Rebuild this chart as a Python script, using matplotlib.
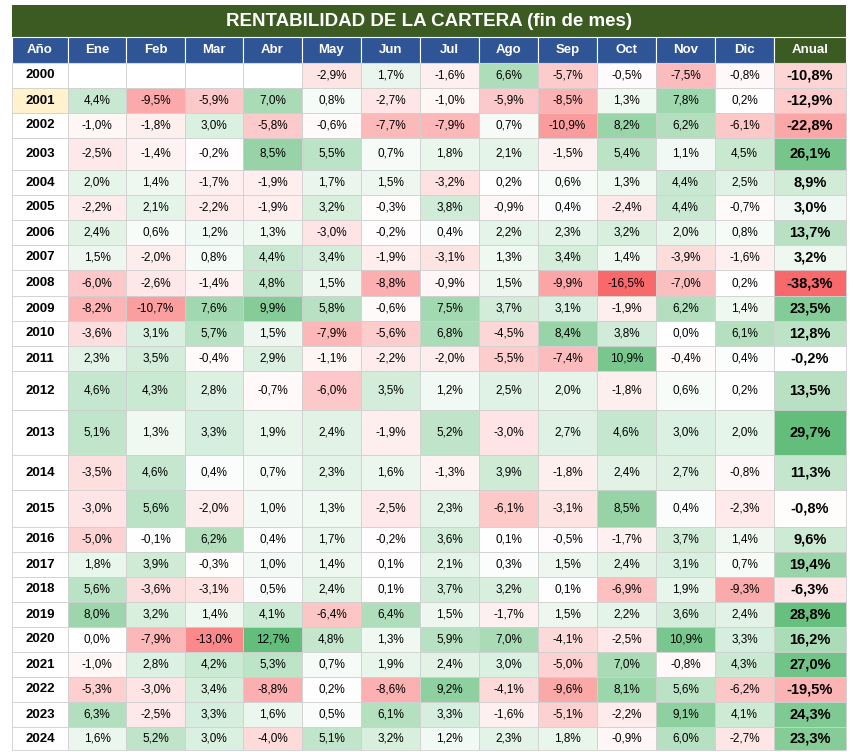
import matplotlib
matplotlib.use("Agg")
import matplotlib.pyplot as plt
from matplotlib.patches import Rectangle
import numpy as np

years = list(range(2000, 2025))
months = ["Ene","Feb","Mar","Abr","May","Jun","Jul","Ago","Sep","Oct","Nov","Dic"]
N = None
monthly = [
 [N,N,N,N,-2.9,1.7,-1.6,6.6,-5.7,-0.5,-7.5,-0.8],
 [4.4,-9.5,-5.9,7.0,0.8,-2.7,-1.0,-5.9,-8.5,1.3,7.8,0.2],
 [-1.0,-1.8,3.0,-5.8,-0.6,-7.7,-7.9,0.7,-10.9,8.2,6.2,-6.1],
 [-2.5,-1.4,-0.2,8.5,5.5,0.7,1.8,2.1,-1.5,5.4,1.1,4.5],
 [2.0,1.4,-1.7,-1.9,1.7,1.5,-3.2,0.2,0.6,1.3,4.4,2.5],
 [-2.2,2.1,-2.2,-1.9,3.2,-0.3,3.8,-0.9,0.4,-2.4,4.4,-0.7],
 [2.4,0.6,1.2,1.3,-3.0,-0.2,0.4,2.2,2.3,3.2,2.0,0.8],
 [1.5,-2.0,0.8,4.4,3.4,-1.9,-3.1,1.3,3.4,1.4,-3.9,-1.6],
 [-6.0,-2.6,-1.4,4.8,1.5,-8.8,-0.9,1.5,-9.9,-16.5,-7.0,0.2],
 [-8.2,-10.7,7.6,9.9,5.8,-0.6,7.5,3.7,3.1,-1.9,6.2,1.4],
 [-3.6,3.1,5.7,1.5,-7.9,-5.6,6.8,-4.5,8.4,3.8,0.0,6.1],
 [2.3,3.5,-0.4,2.9,-1.1,-2.2,-2.0,-5.5,-7.4,10.9,-0.4,0.4],
 [4.6,4.3,2.8,-0.7,-6.0,3.5,1.2,2.5,2.0,-1.8,0.6,0.2],
 [5.1,1.3,3.3,1.9,2.4,-1.9,5.2,-3.0,2.7,4.6,3.0,2.0],
 [-3.5,4.6,0.4,0.7,2.3,1.6,-1.3,3.9,-1.8,2.4,2.7,-0.8],
 [-3.0,5.6,-2.0,1.0,1.3,-2.5,2.3,-6.1,-3.1,8.5,0.4,-2.3],
 [-5.0,-0.1,6.2,0.4,1.7,-0.2,3.6,0.1,-0.5,-1.7,3.7,1.4],
 [1.8,3.9,-0.3,1.0,1.4,0.1,2.1,0.3,1.5,2.4,3.1,0.7],
 [5.6,-3.6,-3.1,0.5,2.4,0.1,3.7,3.2,0.1,-6.9,1.9,-9.3],
 [8.0,3.2,1.4,4.1,-6.4,6.4,1.5,-1.7,1.5,2.2,3.6,2.4],
 [0.0,-7.9,-13.0,12.7,4.8,1.3,5.9,7.0,-4.1,-2.5,10.9,3.3],
 [-1.0,2.8,4.2,5.3,0.7,1.9,2.4,3.0,-5.0,7.0,-0.8,4.3],
 [-5.3,-3.0,3.4,-8.8,0.2,-8.6,9.2,-4.1,-9.6,8.1,5.6,-6.2],
 [6.3,-2.5,3.3,1.6,0.5,6.1,3.3,-1.6,-5.1,-2.2,9.1,4.1],
 [1.6,5.2,3.0,-4.0,5.1,3.2,1.2,2.3,1.8,-0.9,6.0,-2.7],
]
annual = [-10.8,-12.9,-22.8,26.1,8.9,3.0,13.7,3.2,-38.3,23.5,12.8,-0.2,13.5,29.7,
          11.3,-0.8,9.6,19.4,-6.3,28.8,16.2,27.0,-19.5,24.3,23.3]

# layout
col_edges = [12,68,126,185,243,302,361,420,479,538,597,656,715,774,846]
row_edges = [63,88,113,138,170,195,220,245,270,296,321,346,371,410,455,490,527,
             552,577,602,627,652,677,702,727,750]

RED = np.array([248,105,107])/255
GREEN = np.array([99,190,123])/255
WHITE = np.array([1,1,1])

def color(v, vmin, vmax):
    if v is None:
        return WHITE
    if v < 0:
        t = min(v/vmin, 1)
        return WHITE + (RED-WHITE)*t
    t = min(v/vmax, 1) if vmax else 0
    return WHITE + (GREEN-WHITE)*t

fig = plt.figure(figsize=(8.56,7.52), dpi=100)
ax = fig.add_axes([0,0,1,1])
ax.set_xlim(0,856); ax.set_ylim(752,0); ax.axis("off")
plt.rcParams['font.family'] = ['Liberation Sans','DejaVu Sans']

# title
ax.add_patch(Rectangle((12,5),834,32,facecolor="#3b5b22",edgecolor="none"))
ax.text(429,22,"RENTABILIDAD DE LA CARTERA (fin de mes)",color="white",fontsize=13.5,
        fontweight="bold",ha="center",va="center")
# header
heads = ["Año"]+months+["Anual"]
for j,h in enumerate(heads):
    x0,x1 = col_edges[j],col_edges[j+1]
    fc = "#3b5b22" if h=="Anual" else "#2f5597"
    ax.add_patch(Rectangle((x0,37),x1-x0,26,facecolor=fc,edgecolor="white",lw=0.8))
    ax.text((x0+x1)/2,50,h,color="white",fontsize=9.5,fontweight="bold",ha="center",va="center")

flat = [v for r in monthly for v in r if v is not None]
mmin, mmax = min(flat), max(flat)
amin, amax = min(annual), max(annual)

for i,y in enumerate(years):
    y0,y1 = row_edges[i],row_edges[i+1]
    yc=(y0+y1)/2
    fc = "#fff2cc" if y==2001 else "white"
    ax.add_patch(Rectangle((col_edges[0],y0),col_edges[1]-col_edges[0],y1-y0,facecolor=fc,edgecolor="#d0d0d0",lw=0.6))
    ax.text((col_edges[0]+col_edges[1])/2,yc,str(y),fontsize=9.5,fontweight="bold",ha="center",va="center")
    for j,v in enumerate(monthly[i]):
        x0,x1 = col_edges[j+1],col_edges[j+2]
        ax.add_patch(Rectangle((x0,y0),x1-x0,y1-y0,facecolor=color(v,mmin,mmax),edgecolor="#d0d0d0",lw=0.6))
        if v is not None:
            ax.text((x0+x1)/2,yc,f"{v:.1f}%".replace(".",","),fontsize=8.5,ha="center",va="center")
    x0,x1=col_edges[13],col_edges[14]
    a=annual[i]
    ax.add_patch(Rectangle((x0,y0),x1-x0,y1-y0,facecolor=color(a,amin,amax),edgecolor="#d0d0d0",lw=0.6))
    ax.text((x0+x1)/2,yc,f"{a:.1f}%".replace(".",","),fontsize=10.5,fontweight="bold",ha="center",va="center")

fig.savefig("out.png",dpi=100,facecolor="white")
